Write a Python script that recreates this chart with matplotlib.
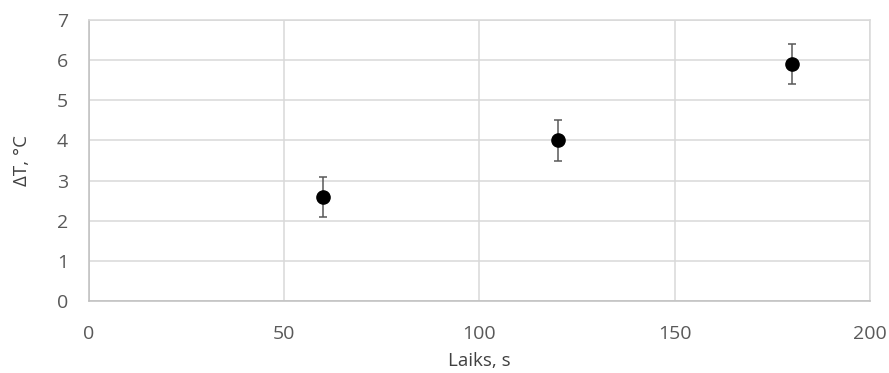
import matplotlib.pyplot as plt

# Temperature rise over time, with measurement uncertainty
time_s = [60, 120, 180]
delta_t = [2.6, 4.0, 5.9]
delta_t_err = [0.5, 0.5, 0.5]

x_ticks = [0, 50, 100, 150, 200]
y_ticks = [0, 1, 2, 3, 4, 5, 6, 7]

plt.rcParams['font.family'] = ['Open Sans', 'DejaVu Sans']

fig = plt.figure(figsize=(8.89, 3.73), dpi=100)
ax = fig.add_axes([0.1001, 0.193, 0.8785, 0.7534])

grid_c = '#d9d9d9'
ax.errorbar(time_s, delta_t, yerr=delta_t_err, fmt='o', color='black',
            markersize=9.5, ecolor='#595959', elinewidth=1.1, capsize=3,
            capthick=1.1, zorder=3)

ax.set_xlim(0, 200)
ax.set_ylim(0, 7)
ax.set_xticks(x_ticks)
ax.set_yticks(y_ticks)
ax.grid(True, color=grid_c, linewidth=1.1)
ax.set_axisbelow(True)
for side in ['left', 'right', 'top', 'bottom']:
    ax.spines[side].set_color(grid_c)
    ax.spines[side].set_linewidth(1.1)
ax.spines['left'].set_color('#bfbfbf')
ax.spines['bottom'].set_color('#bfbfbf')
ax.tick_params(length=0, labelsize=14, labelcolor='#595959')
ax.tick_params(axis='x', pad=17)
ax.tick_params(axis='y', pad=15)

ax.set_xlabel('Laiks, s', fontsize=13.5, color='#404040', labelpad=7)
ax.set_ylabel('ΔT, °C', fontsize=13.5, color='#404040', labelpad=19)

fig.savefig('out.png', dpi=100)
